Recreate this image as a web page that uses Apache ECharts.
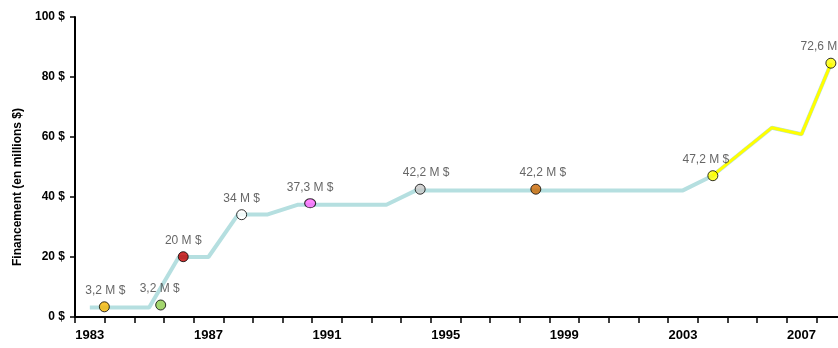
<!DOCTYPE html>
<html>
<head>
<meta charset="utf-8">
<script src="https://cdn.jsdelivr.net/npm/echarts@6/dist/echarts.min.js"></script>
<style>
html,body{margin:0;padding:0;background:#fff;}
#chart{width:838px;height:348px;}
</style>
</head>
<body>
<div id="chart"></div>
<script>
// Years (categories)
const years = ['1983','1984','1985','1986','1987','1988','1989','1990','1991','1992','1993','1994','1995','1996','1997','1998','1999','2000','2001','2002','2003','2004','2005','2006','2007','2008'];
// Funding line (light blue), millions $
const fundingValues = [3.2,3.2,3.2,20,20,34.2,34.2,37.4,37.4,37.4,37.4,42.2,42.2,42.2,42.2,42.2,42.2,42.2,42.2,42.2,42.2,47.1,55.1,63.1,60.9,84.6];
// Recent segment (yellow)
const recentValues = [null,null,null,null,null,null,null,null,null,null,null,null,null,null,null,null,null,null,null,null,null,47.1,55.1,63.1,60.9,84.6];
// Highlighted markers: position in years, value, label, colour
const markerX = [1983.99,1985.89,1986.65,1988.62,1990.93,1994.64,1998.54,2004.51,2008.49];
const markerY = [3.4,4.0,20.1,34.1,37.9,42.6,42.6,47.1,84.6];
const markerLabels = ['3,2 M $','3,2 M $','20 M $','34 M $','37,3 M $','42,2 M $','42,2 M $','47,2 M $','72,6 M $'];
const markerColors = ['#f7b500','#8ccc4a','#c00000','#ffffff','#ff66ff','#c8c8c8','#cc6600','#ffff00','#ffff00'];
const markerSizes = [10,10,10,10,[11,9],10,10,10,10];
const labelDx = [1,-1,0,0,0,6,7,-7,-7];
const yTicks = [0,20,40,60,80,100];

const chart = echarts.init(document.getElementById('chart'), null, {renderer:'canvas'});
const fam = 'Liberation Sans, Arial, sans-serif';

chart.setOption({
  animation:false,
  backgroundColor:'#fff',
  grid:{left:75, top:17, width:771, height:300, containLabel:false, outerBoundsMode:'none'},
  xAxis:[{
    type:'category', data:years, boundaryGap:true,
    axisLine:{lineStyle:{color:'#000', width:2}},
    axisTick:{show:true, interval:0, length:6, lineStyle:{color:'#000', width:1.5}},
    axisLabel:{interval:3, margin:12, fontFamily:fam, fontWeight:'bold', fontSize:13, color:'#000'},
    splitLine:{show:false}
  },{
    type:'value', min:1983, max:2009, show:false
  }],
  yAxis:{
    type:'value', min:yTicks[0], max:yTicks[yTicks.length-1], interval:20,
    axisLine:{show:true, lineStyle:{color:'#000', width:2}},
    axisTick:{show:true, length:5, lineStyle:{color:'#000', width:1.5}},
    axisLabel:{margin:10, formatter:'{value} $', fontFamily:fam, fontWeight:'bold', fontSize:12, color:'#000'},
    splitLine:{show:false}
  },
  graphic:[{
    type:'text', x:18, y:187, rotation:Math.PI/2,
    style:{text:'Financement (en millions $)', font:'bold 12px "Liberation Sans", Arial, sans-serif', fill:'#000', textAlign:'center', textVerticalAlign:'middle'}
  }],
  series:[{
    type:'line', data:fundingValues, xAxisIndex:0, symbol:'none',
    lineStyle:{color:'#b5dfe0', width:4}, z:2
  },{
    type:'line', data:recentValues, xAxisIndex:0, symbol:'none',
    lineStyle:{color:'#ffff00', width:3}, z:3
  },{
    type:'scatter', xAxisIndex:1, z:5,
    data:markerX.map((x,i)=>({
      value:[x, markerY[i]],
      symbolSize:markerSizes[i],
      itemStyle:{color:markerColors[i], borderColor:'#000', borderWidth:1},
      label:{show:true, position:'top', distance:5, offset:[labelDx[i],0], formatter:markerLabels[i],
        fontFamily:fam, fontSize:12, color:'#404040'}
    }))
  }]
});
</script>
</body>
</html>
